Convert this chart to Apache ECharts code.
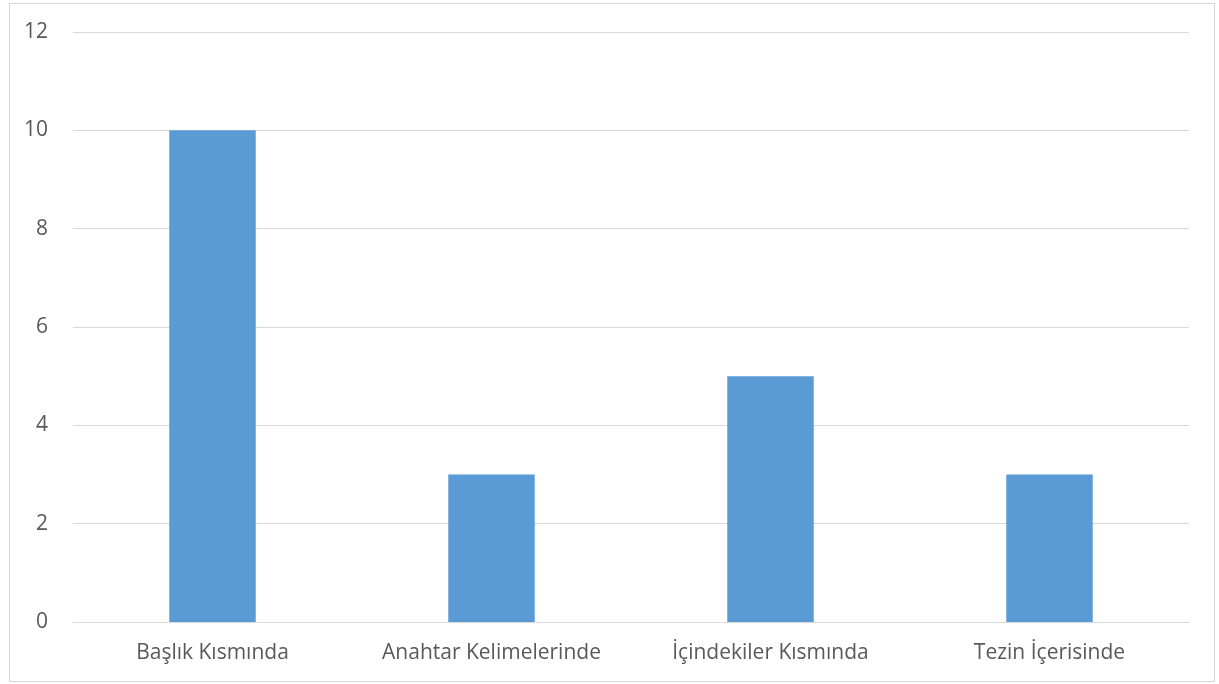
<!DOCTYPE html>
<html>
<head>
<meta charset="utf-8">
<script src="https://cdn.jsdelivr.net/npm/echarts@6/dist/echarts.min.js"></script>
<style>
  html, body { margin: 0; padding: 0; background: #fff; }
  #frame { position: absolute; left: 9px; top: 3px; width: 1204px; height: 677px; border: 1px solid #d9d9d9; }
  #chart { position: absolute; left: 0; top: 0; width: 1219px; height: 684px; }
</style>
</head>
<body>
<div id="frame"></div>
<div id="chart"></div>
<script>
var categories = ['Başlık Kısmında', 'Anahtar Kelimelerinde', 'İçindekiler Kısmında', 'Tezin İçerisinde'];
var values = [10, 3, 5, 3];

var chart = echarts.init(document.getElementById('chart'));
var option = {
    animation: false,
    grid: { left: 73, right: 30, top: 32, bottom: 62 },
    xAxis: {
        type: 'category',
        data: categories,
        axisLine: { lineStyle: { color: '#d9d9d9', width: 1 } },
        axisTick: { show: false },
        axisLabel: { color: '#595959', fontSize: 21, fontFamily: 'Open Sans', margin: 21, interval: 0, hideOverlap: false }
    },
    yAxis: {
        type: 'value',
        min: 0,
        max: 12,
        interval: 2,
        splitLine: { lineStyle: { color: '#d9d9d9', width: 1 } },
        axisLine: { show: false },
        axisTick: { show: false },
        axisLabel: { color: '#595959', fontSize: 21, fontFamily: 'Open Sans', margin: 25 }
    },
    series: [{
        type: 'bar',
        data: values,
        barWidth: '31%',
        itemStyle: { color: '#5b9bd5' }
    }]
};
chart.setOption(option);
window.onresize = function() { chart.resize(); };
</script>
</body>
</html>
